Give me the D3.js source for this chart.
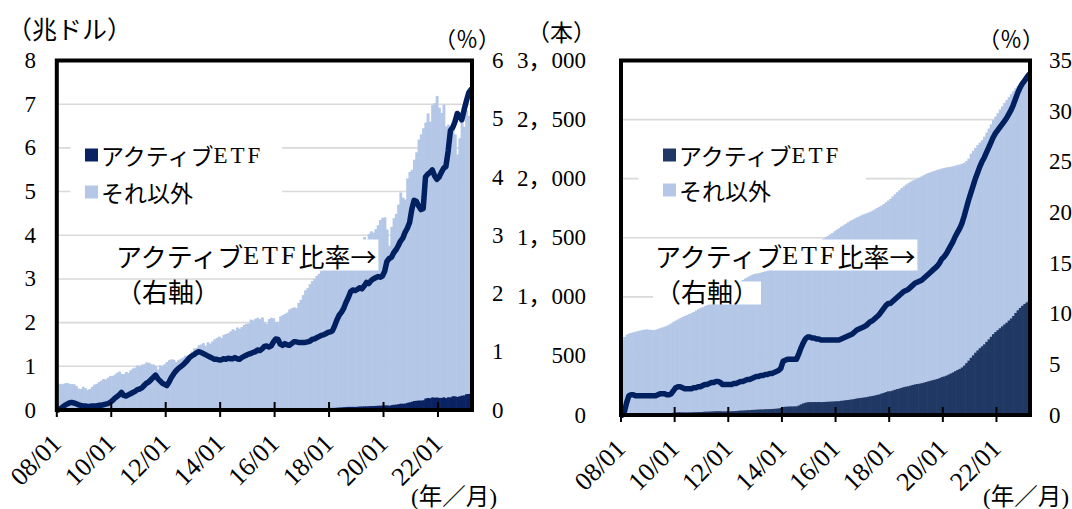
<!DOCTYPE html>
<html><head><meta charset="utf-8">
<script src="https://cdn.jsdelivr.net/npm/d3@7"></script>
<style>
body{margin:0;background:#fff;}
svg text{font-family:"Liberation Serif","Noto Sans CJK JP",serif;fill:#000;}
</style></head><body>
<svg id="c" width="1072" height="509"></svg>
<script>
// ---------------- categories (monthly, 2008/01 - 2023/03) ----------------
const yearList = [2008,2009,2010,2011,2012,2013,2014,2015,2016,2017,2018,2019,2020,2021,2022,2023];
const monthList = ["01","02","03","04","05","06","07","08","09","10","11","12"];
const lastMonthOf2023 = 3;
const categories = [];
yearList.forEach(y => monthList.forEach((m, k) => {
  if (y === 2023 && k >= lastMonthOf2023) return;
  categories.push(String(y).slice(2) + "/" + m);
}));
const xTickLabels = ["08/01","10/01","12/01","14/01","16/01","18/01","20/01","22/01"];

// ---------------- left chart: ETF AUM (兆ドル) ----------------
const aumTotal = [
 0.58,0.60,0.59,0.61,0.62,0.60,0.59,0.59,0.55,0.49,0.48,0.53,
 0.50,0.46,0.48,0.53,0.58,0.60,0.64,0.67,0.71,0.70,0.74,0.78,
 0.78,0.81,0.85,0.88,0.83,0.82,0.87,0.85,0.91,0.95,0.97,1.02,
 1.01,1.04,1.05,1.09,1.08,1.05,1.04,1.01,0.93,1.02,1.01,1.05,
 1.10,1.14,1.16,1.15,1.10,1.14,1.17,1.20,1.24,1.24,1.26,1.34,
 1.41,1.42,1.48,1.50,1.53,1.47,1.55,1.52,1.57,1.62,1.65,1.68,
 1.65,1.72,1.74,1.76,1.80,1.85,1.82,1.89,1.86,1.90,1.95,1.97,
 1.98,2.07,2.05,2.09,2.11,2.08,2.12,2.01,1.97,2.08,2.11,2.10,
 2.01,2.02,2.14,2.17,2.20,2.23,2.30,2.33,2.35,2.33,2.45,2.52,
 2.63,2.74,2.79,2.88,2.95,3.00,3.07,3.12,3.19,3.27,3.34,3.42,
 3.55,3.43,3.40,3.44,3.52,3.55,3.63,3.72,3.73,3.50,3.56,3.37,
 3.63,3.76,3.83,3.96,3.78,4.03,4.09,4.06,4.14,4.23,4.35,4.40,
 4.41,4.13,3.76,4.19,4.39,4.49,4.70,4.98,4.86,4.82,5.30,5.45,
 5.50,5.73,5.90,6.19,6.31,6.45,6.58,6.79,6.60,6.98,7.02,7.19,
 6.92,6.80,6.99,6.49,6.53,6.05,6.48,6.31,5.85,6.22,6.59,6.48,
 6.86,6.73,6.90
];
const aumActive = [
 0.000,0.000,0.000,0.000,0.001,0.001,0.001,0.001,0.001,0.000,0.000,0.000,
 0.000,0.000,0.000,0.000,0.000,0.000,0.001,0.001,0.001,0.001,0.001,0.001,
 0.001,0.002,0.002,0.002,0.002,0.002,0.002,0.002,0.003,0.003,0.003,0.004,
 0.004,0.004,0.004,0.005,0.005,0.005,0.006,0.006,0.005,0.005,0.005,0.005,
 0.005,0.005,0.006,0.007,0.007,0.008,0.009,0.009,0.010,0.011,0.011,0.012,
 0.013,0.014,0.015,0.015,0.015,0.014,0.014,0.014,0.014,0.014,0.014,0.014,
 0.014,0.015,0.015,0.016,0.016,0.016,0.016,0.017,0.016,0.017,0.018,0.019,
 0.019,0.020,0.020,0.021,0.022,0.021,0.022,0.022,0.022,0.022,0.023,0.025,
 0.025,0.024,0.024,0.024,0.025,0.025,0.026,0.027,0.027,0.027,0.028,0.029,
 0.031,0.032,0.033,0.034,0.036,0.037,0.038,0.039,0.041,0.042,0.044,0.045,
 0.048,0.047,0.049,0.053,0.057,0.060,0.064,0.069,0.072,0.071,0.073,0.069,
 0.075,0.079,0.080,0.084,0.083,0.087,0.091,0.091,0.094,0.097,0.099,0.101,
 0.105,0.105,0.098,0.110,0.119,0.123,0.133,0.144,0.143,0.147,0.165,0.175,
 0.190,0.206,0.211,0.217,0.217,0.223,0.263,0.275,0.269,0.288,0.282,0.285,
 0.277,0.277,0.290,0.271,0.291,0.290,0.314,0.312,0.298,0.314,0.328,0.334,
 0.364,0.366,0.380
];
const aumShare = [
 0.00,0.02,0.05,0.08,0.10,0.12,0.13,0.12,0.11,0.09,0.08,0.07,
 0.07,0.06,0.06,0.07,0.07,0.07,0.08,0.08,0.09,0.10,0.11,0.13,
 0.16,0.20,0.23,0.26,0.30,0.25,0.24,0.26,0.28,0.30,0.32,0.35,
 0.36,0.38,0.42,0.46,0.48,0.52,0.56,0.60,0.54,0.50,0.46,0.44,
 0.42,0.48,0.56,0.62,0.67,0.71,0.74,0.77,0.81,0.85,0.90,0.93,
 0.95,0.98,1.00,0.99,0.97,0.95,0.93,0.91,0.89,0.87,0.87,0.86,
 0.86,0.88,0.87,0.89,0.88,0.88,0.90,0.88,0.87,0.90,0.92,0.94,
 0.96,0.97,0.99,1.00,1.03,1.02,1.05,1.09,1.10,1.08,1.10,1.17,
 1.22,1.21,1.13,1.11,1.14,1.12,1.11,1.14,1.17,1.17,1.16,1.16,
 1.16,1.16,1.17,1.18,1.21,1.22,1.24,1.26,1.28,1.29,1.31,1.33,
 1.34,1.36,1.45,1.55,1.63,1.68,1.75,1.85,1.93,2.03,2.06,2.05,
 2.07,2.10,2.08,2.13,2.19,2.17,2.22,2.25,2.27,2.29,2.28,2.30,
 2.38,2.55,2.60,2.62,2.70,2.75,2.82,2.90,2.95,3.05,3.12,3.22,
 3.45,3.60,3.58,3.50,3.44,3.46,4.00,4.05,4.08,4.12,4.02,3.96,
 4.00,4.08,4.15,4.18,4.45,4.80,4.85,4.95,5.09,5.05,4.98,5.15,
 5.30,5.44,5.50
];
const aumTicks = [0,1,2,3,4,5,6,7,8];
const aumShareTicks = [0,1,2,3,4,5,6];

// ---------------- right chart: number of ETFs (本) ----------------
const cntTotal = [
 635,660,680,690,695,700,705,710,715,720,722,725,
 722,720,718,722,728,735,742,748,755,765,775,790,
 800,810,820,830,838,846,855,863,872,885,895,905,
 912,922,930,940,948,958,968,980,992,1005,1018,1030,
 1045,1062,1080,1098,1115,1130,1142,1155,1165,1175,1185,1193,
 1197,1200,1205,1210,1215,1222,1228,1235,1245,1255,1265,1275,
 1285,1290,1298,1305,1312,1320,1330,1345,1360,1375,1390,1405,
 1420,1432,1445,1455,1465,1478,1492,1505,1515,1528,1540,1555,
 1568,1580,1595,1605,1618,1630,1642,1652,1662,1672,1680,1690,
 1698,1705,1712,1720,1730,1740,1752,1762,1772,1785,1800,1815,
 1830,1850,1868,1885,1902,1920,1935,1950,1962,1975,1985,1993,
 2000,2010,2020,2030,2040,2048,2055,2062,2068,2075,2080,2086,
 2090,2095,2098,2100,2105,2110,2115,2120,2126,2135,2150,2170,
 2210,2235,2260,2285,2305,2325,2355,2390,2425,2460,2495,2525,
 2555,2585,2612,2640,2665,2690,2715,2740,2765,2785,2805,2825,
 2845,2862,2880
];
const cntActive = [
 0,2,8,13,14,14,13,13,14,14,14,14,
 14,14,14,14,15,15,16,16,15,15,16,19,
 22,23,23,22,22,22,22,22,24,24,25,25,
 26,28,28,29,30,31,32,32,32,30,31,31,
 31,32,33,34,36,37,38,39,41,41,43,44,
 45,46,47,47,49,49,50,51,52,54,56,59,
 68,70,71,72,72,73,73,81,90,98,104,108,
 109,109,110,109,110,109,110,111,112,113,114,115,
 116,117,120,122,125,127,130,132,136,140,143,145,
 148,150,154,158,161,165,170,174,181,187,194,200,
 201,207,213,219,224,230,236,240,243,249,254,259,
 262,265,269,274,279,285,290,295,300,305,312,321,
 326,333,342,351,360,371,381,390,402,418,439,460,
 484,505,527,546,565,581,598,619,640,662,684,702,
 718,734,750,766,781,799,817,838,863,886,906,924,
 939,953,968
];
const cntShare = [
 0.0,0.3,1.2,1.9,2.0,2.0,1.9,1.9,1.9,1.9,1.9,1.9,
 1.9,1.9,1.9,1.9,2.0,2.1,2.1,2.1,2.0,2.0,2.1,2.4,
 2.7,2.8,2.8,2.7,2.6,2.6,2.6,2.6,2.7,2.7,2.8,2.8,
 2.9,3.0,3.0,3.1,3.2,3.2,3.3,3.3,3.2,3.0,3.0,3.0,
 3.0,3.0,3.1,3.1,3.2,3.3,3.3,3.4,3.5,3.5,3.6,3.7,
 3.8,3.8,3.9,3.9,4.0,4.0,4.1,4.1,4.2,4.3,4.4,4.6,
 5.3,5.4,5.5,5.5,5.5,5.5,5.5,6.0,6.6,7.1,7.5,7.7,
 7.7,7.6,7.6,7.5,7.5,7.4,7.4,7.4,7.4,7.4,7.4,7.4,
 7.4,7.4,7.5,7.6,7.7,7.8,7.9,8.0,8.2,8.4,8.5,8.6,
 8.7,8.8,9.0,9.2,9.3,9.5,9.7,9.9,10.2,10.5,10.8,11.0,
 11.0,11.2,11.4,11.6,11.8,12.0,12.2,12.3,12.4,12.6,12.8,13.0,
 13.1,13.2,13.3,13.5,13.7,13.9,14.1,14.3,14.5,14.7,15.0,15.4,
 15.6,15.9,16.3,16.7,17.1,17.6,18.0,18.4,18.9,19.6,20.4,21.2,
 21.9,22.6,23.3,23.9,24.5,25.0,25.4,25.9,26.4,26.9,27.4,27.8,
 28.1,28.4,28.7,29.0,29.3,29.7,30.1,30.6,31.2,31.8,32.3,32.7,
 33.0,33.3,33.6
];
const cntTicks = [0,500,1000,1500,2000,2500,3000];
const cntTickLabels = ["0","500","1，000","1，500","2，000","2，500","3，000"];
const cntShareTicks = [0,5,10,15,20,25,30,35];

const legendNames = ["アクティブ","それ以外"];

// ---------------- drawing ----------------
const svg = d3.select("#c");
const LIGHT = "#B4C7E7";
const LINE = "#002060";

function addEtf(t) {
  t.append("tspan").attr("font-family", "Liberation Serif").attr("letter-spacing", 3).text("ETF");
}

function drawChart(cfg) {
  const p = cfg.plot;
  const x = d3.scaleBand().domain(categories).range([p.x0, p.x1]).paddingInner(0).paddingOuter(0);
  const bw = x.bandwidth();
  const yL = d3.scaleLinear().domain([cfg.leftTicks[0], cfg.leftTicks[cfg.leftTicks.length-1]]).range([p.y1, p.y0]);
  const yR = d3.scaleLinear().domain([cfg.rightTicks[0], cfg.rightTicks[cfg.rightTicks.length-1]]).range([p.y1, p.y0]);
  const g = svg.append("g");

  // gridlines
  g.selectAll("line.grid").data(cfg.leftTicks.slice(1, -1)).join("line")
    .attr("x1", p.x0).attr("x2", p.x1)
    .attr("y1", d => yL(d)).attr("y2", d => yL(d))
    .attr("stroke", "#D9D9D9").attr("stroke-width", 1.6);

  // bars: others (top of stack = total), active at bottom
  g.selectAll("rect.tot").data(categories).join("rect")
    .attr("x", d => x(d)).attr("width", bw + 0.6)
    .attr("y", (d, i) => yL(cfg.total[i]))
    .attr("height", (d, i) => p.y1 - yL(cfg.total[i]))
    .attr("fill", LIGHT);
  g.selectAll("rect.act").data(categories).join("rect")
    .attr("x", d => x(d)).attr("width", bw + 0.6)
    .attr("y", (d, i) => yL(cfg.active[i]))
    .attr("height", (d, i) => p.y1 - yL(cfg.active[i]))
    .attr("fill", cfg.dark);

  // legend
  const lg = g.append("g");
  lg.append("rect").attr("x", cfg.legend.bx0).attr("y", cfg.legend.by0)
    .attr("width", cfg.legend.bx1 - cfg.legend.bx0).attr("height", cfg.legend.by1 - cfg.legend.by0)
    .attr("fill", "#fff");
  const legColors = [cfg.dark, LIGHT];
  legendNames.forEach((name, k) => {
    const cy = cfg.legend.rows[k];
    lg.append("rect").attr("x", cfg.legend.mx).attr("y", cy - 6.5).attr("width", 13).attr("height", 13).attr("fill", legColors[k]);
    const t = lg.append("text").attr("x", cfg.legend.tx).attr("y", cy).attr("dominant-baseline", "central")
      .attr("font-size", 23);
    t.append("tspan").attr("font-family", "Noto Sans CJK JP").text(name);
    if (k === 0) addEtf(t);
  });

  // annotation with white text boxes
  const ag = g.append("g");
  const l1 = ag.append("text").attr("x", cfg.annot.x).attr("y", cfg.annot.y1).attr("dominant-baseline", "central").attr("font-size", 26);
  l1.append("tspan").attr("font-family", "Noto Sans CJK JP").text("アクティブ");
  addEtf(l1);
  l1.append("tspan").attr("font-family", "Noto Sans CJK JP").text("比率→");
  const l2 = ag.append("text").attr("x", cfg.annot.x).attr("y", cfg.annot.y2).attr("dominant-baseline", "central").attr("font-size", 26)
    .attr("font-family", "Noto Sans CJK JP").text("（右軸）");
  [l1, l2].forEach(t => {
    const b = t.node().getBBox();
    ag.insert("rect", "text").attr("x", b.x - 2).attr("y", b.y + 3).attr("width", b.width + 4).attr("height", b.height - 6).attr("fill", "#fff");
  });

  // line (right axis)
  const line = d3.line().x((d, i) => x(categories[i]) + bw / 2).y(d => yR(d));
  g.append("path").datum(cfg.share).attr("d", line)
    .attr("fill", "none").attr("stroke", LINE).attr("stroke-width", 5.5)
    .attr("stroke-linejoin", "round").attr("stroke-linecap", "round");

  // plot border
  g.append("rect").attr("x", p.x0).attr("y", p.y0).attr("width", p.x1 - p.x0).attr("height", p.y1 - p.y0)
    .attr("fill", "none").attr("stroke", "#000").attr("stroke-width", 4);

  // x ticks + labels
  const tickCats = categories.filter(c => xTickLabels.includes(c));
  g.selectAll("line.xt").data(tickCats).join("line")
    .attr("x1", d => x(d)).attr("x2", d => x(d)).attr("y1", p.y1 - 8).attr("y2", p.y1 + 7)
    .attr("stroke", "#000").attr("stroke-width", 2);
  g.selectAll("text.xl").data(tickCats).join("text")
    .attr("transform", d => `translate(${x(d) + 6},${p.y1 + 35}) rotate(-45)`)
    .attr("text-anchor", "end").attr("font-size", 26).text(d => d);

  // left axis labels
  g.selectAll("text.yl").data(cfg.leftTicks).join("text")
    .attr("x", cfg.leftLabelX).attr("y", d => yL(d)).attr("text-anchor", "end")
    .attr("dominant-baseline", "central").attr("font-size", 23)
    .text((d, i) => cfg.leftLabels[i]);
  // right axis labels
  g.selectAll("text.yr").data(cfg.rightTicks).join("text")
    .attr("x", cfg.rightLabelX).attr("y", d => yR(d)).attr("text-anchor", "start")
    .attr("dominant-baseline", "central").attr("font-size", 23)
    .text(d => String(d));

  // unit labels
  cfg.units.forEach(u => {
    g.append("text").attr("x", u.x).attr("y", u.y).attr("dominant-baseline", "central")
      .attr("font-size", u.size).attr("font-family", u.family || "Noto Sans CJK JP").text(u.t);
  });
}

drawChart({
  plot: {x0: 56.8, x1: 472, y0: 60.5, y1: 410},
  total: aumTotal, active: aumActive, share: aumShare,
  dark: "#0B2262",
  leftTicks: aumTicks, leftLabels: aumTicks.map(String), rightTicks: aumShareTicks,
  leftLabelX: 36, rightLabelX: 492,
  legend: {bx0: 70.6, bx1: 282, by0: 131, by1: 213, mx: 85, tx: 101, rows: [155, 192]},
  annot: {x: 116, y1: 255, y2: 293},
  units: [
    {t: "（兆ドル）", x: 7, y: 30, size: 25},
    {t: "（％）", x: 434, y: 39, size: 22},
    {t: "(年／月)", x: 411, y: 497, size: 23.5, family: "Liberation Serif, Noto Sans CJK JP"}
  ]
});

drawChart({
  plot: {x0: 621, x1: 1030, y0: 60.5, y1: 415},
  total: cntTotal, active: cntActive, share: cntShare,
  dark: "#203864",
  leftTicks: cntTicks, leftLabels: cntTickLabels, rightTicks: cntShareTicks,
  leftLabelX: 586, rightLabelX: 1049,
  legend: {bx0: 638.5, bx1: 866, by0: 131, by1: 213, mx: 663, tx: 679, rows: [155, 190]},
  annot: {x: 655, y1: 255, y2: 293},
  units: [
    {t: "（本）", x: 527, y: 33, size: 23},
    {t: "（％）", x: 978, y: 39, size: 22},
    {t: "(年／月)", x: 983, y: 497, size: 23.5, family: "Liberation Serif, Noto Sans CJK JP"}
  ]
});
</script>
</body></html>
